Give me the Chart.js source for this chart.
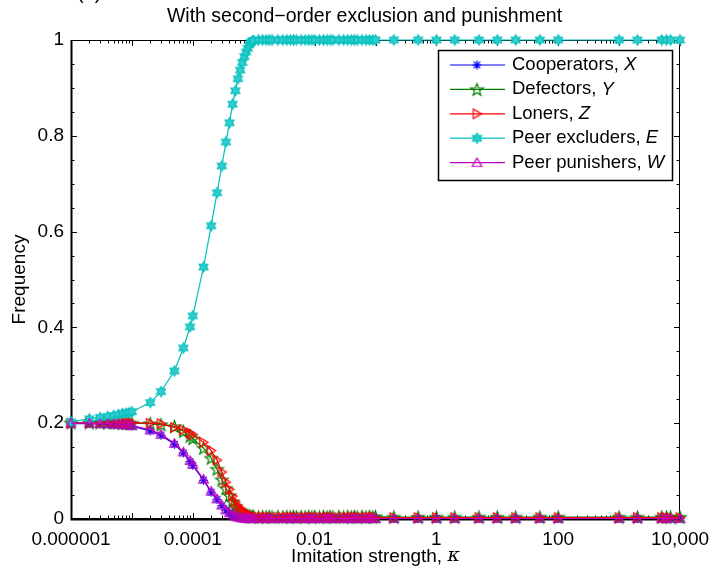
<!DOCTYPE html>
<html>
<head>
<meta charset="utf-8">
<script src="https://cdn.jsdelivr.net/npm/chart.js@4.4.1/dist/chart.umd.min.js"></script>
<style>
  html, body { margin: 0; padding: 0; background: #fff; }
  #chart { display: block; }
</style>
</head>
<body>
<canvas id="chart" width="715" height="570"></canvas>
<script>
// imitation strength values (x)
const kappa = [
  1e-6, 2e-6, 3e-6, 4e-6, 5e-6, 6e-6, 7e-6, 8e-6, 9e-6,
  1e-5, 2e-5, 3e-5, 5e-5, 7e-5, 9e-5,
  1e-4, 1.5e-4, 2e-4, 2.5e-4, 3e-4, 3.5e-4, 4e-4, 4.5e-4, 5e-4, 5.5e-4, 6e-4, 6.5e-4, 7e-4, 7.5e-4, 8e-4, 8.5e-4, 9e-4, 9.5e-4,
  1e-3, 1.2e-3, 1.4e-3, 1.6e-3, 1.8e-3, 2e-3, 2.5e-3, 3e-3, 3.5e-3, 4e-3, 4.5e-3, 5e-3, 6e-3, 7e-3, 8e-3, 9e-3,
  0.01, 0.012, 0.014, 0.016, 0.018, 0.02, 0.025, 0.03, 0.035, 0.04, 0.045, 0.05, 0.06, 0.07, 0.08, 0.09, 0.1,
  0.2, 0.5, 1, 2, 5, 10, 20, 50, 100, 1000, 2000, 5000, 6000, 7000, 10000
];

// frequencies
const cooperatorsX = [
  0.199, 0.199, 0.198, 0.198, 0.197, 0.197, 0.196, 0.196, 0.195,
  0.194, 0.184, 0.175, 0.156, 0.138, 0.120,
  0.112, 0.081, 0.056, 0.041, 0.028, 0.018, 0.012, 0.008, 0.005, 0.004, 0.003, 0.002, 0.001, 0.001, 0.001, 0.001, 0.001, 0.001,
  0.001, 0.001, 0.001, 0.001, 0.001, 0.001, 0.001, 0.001, 0.001, 0.001, 0.001, 0.001, 0.001, 0.001, 0.001, 0.001,
  0.001, 0.001, 0.001, 0.001, 0.001, 0.001, 0.001, 0.001, 0.001, 0.001, 0.001, 0.001, 0.001, 0.001, 0.001, 0.001, 0.001,
  0.001, 0.001, 0.001, 0.001, 0.001, 0.001, 0.001, 0.001, 0.001, 0.001, 0.001, 0.001, 0.001, 0.001, 0.001
];
const defectorsY = [
  0.201, 0.201, 0.201, 0.201, 0.201, 0.201, 0.200, 0.200, 0.200,
  0.200, 0.199, 0.197, 0.193, 0.183, 0.173,
  0.168, 0.148, 0.127, 0.104, 0.082, 0.064, 0.049, 0.036, 0.027, 0.020, 0.015, 0.012, 0.009, 0.008, 0.007, 0.006, 0.005, 0.005,
  0.005, 0.004, 0.005, 0.004, 0.005, 0.004, 0.005, 0.004, 0.005, 0.004, 0.005, 0.004, 0.005, 0.004, 0.005, 0.004,
  0.005, 0.004, 0.005, 0.004, 0.005, 0.004, 0.005, 0.004, 0.005, 0.004, 0.005, 0.004, 0.005, 0.004, 0.005, 0.004, 0.005,
  0.004, 0.004, 0.004, 0.004, 0.004, 0.004, 0.004, 0.004, 0.004, 0.004, 0.004, 0.004, 0.004, 0.004, 0.004
];
const lonersZ = [
  0.200, 0.201, 0.201, 0.201, 0.201, 0.201, 0.201, 0.201, 0.201,
  0.201, 0.200, 0.199, 0.191, 0.186, 0.180,
  0.176, 0.160, 0.143, 0.123, 0.098, 0.077, 0.062, 0.048, 0.036, 0.028, 0.022, 0.018, 0.014, 0.011, 0.009, 0.008, 0.007, 0.006,
  0.005, 0.004, 0.004, 0.003, 0.004, 0.003, 0.004, 0.003, 0.004, 0.003, 0.004, 0.003, 0.004, 0.003, 0.004, 0.003,
  0.003, 0.004, 0.003, 0.004, 0.003, 0.004, 0.003, 0.004, 0.003, 0.004, 0.003, 0.004, 0.003, 0.004, 0.003, 0.004, 0.003,
  0.003, 0.003, 0.003, 0.003, 0.003, 0.003, 0.003, 0.003, 0.003, 0.003, 0.003, 0.003, 0.003, 0.003, 0.003
];
const excludersE = [
  0.203, 0.209, 0.212, 0.214, 0.216, 0.218, 0.220, 0.221, 0.222,
  0.224, 0.243, 0.266, 0.309, 0.357, 0.401,
  0.424, 0.526, 0.612, 0.681, 0.737, 0.787, 0.827, 0.866, 0.894, 0.919, 0.937, 0.953, 0.965, 0.975, 0.983, 0.990, 0.995, 0.998,
  0.999, 1, 1, 1, 1, 1, 1, 1, 1, 1, 1, 1, 1, 1, 1, 1,
  1, 1, 1, 1, 1, 1, 1, 1, 1, 1, 1, 1, 1, 1, 1, 1, 1,
  1, 1, 1, 1, 1, 1, 1, 1, 1, 1, 1, 1, 1, 1, 1
];
const punishersW = [
  0.200, 0.200, 0.199, 0.199, 0.198, 0.198, 0.197, 0.197, 0.196,
  0.195, 0.186, 0.177, 0.158, 0.140, 0.122,
  0.114, 0.083, 0.058, 0.042, 0.029, 0.019, 0.013, 0.009, 0.006, 0.004, 0.003, 0.002, 0.002, 0.001, 0.001, 0.001, 0.001, 0.001,
  0.001, 0.001, 0.001, 0.001, 0.001, 0.001, 0.001, 0.001, 0.001, 0.001, 0.001, 0.001, 0.001, 0.001, 0.001, 0.001,
  0.001, 0.001, 0.001, 0.001, 0.001, 0.001, 0.001, 0.001, 0.001, 0.001, 0.001, 0.001, 0.001, 0.001, 0.001, 0.001, 0.001,
  0.001, 0.001, 0.001, 0.001, 0.001, 0.001, 0.001, 0.001, 0.001, 0.001, 0.001, 0.001, 0.001, 0.001, 0.001
];

const xTickValues = [1e-6, 1e-4, 1e-2, 1, 100, 10000];
const xTickLabels = ['0.000001', '0.0001', '0.01', '1', '100', '10,000'];
const yTickValues = [0, 0.2, 0.4, 0.6, 0.8, 1];
const yTickLabels = ['0', '0.2', '0.4', '0.6', '0.8', '1'];

const FONT = "'Liberation Sans', Arial, sans-serif";
const FSIZE = 19;
const TITLE_FSIZE = 19.5;
const LEGEND_FSIZE = 18.5;

// marker images, drawn once
function starPath(ctx, cx, cy, n, rOut, rIn, start) {
  ctx.beginPath();
  for (let i = 0; i < 2 * n; i++) {
    const r = i % 2 ? rIn : rOut;
    const a = start + i * Math.PI / n;
    const px = cx + r * Math.cos(a), py = cy + r * Math.sin(a);
    if (i === 0) ctx.moveTo(px, py); else ctx.lineTo(px, py);
  }
  ctx.closePath();
}

function makeMarker(size, draw) {
  const c = document.createElement('canvas');
  c.width = size; c.height = size;
  draw(c.getContext('2d'), size / 2);
  return c;
}

const asterisk = makeMarker(13, (ctx, m) => {
  ctx.strokeStyle = '#0000ff'; ctx.lineWidth = 1.2;
  const r = 4.5, d = r * 0.72;
  ctx.beginPath();
  ctx.moveTo(m, m - r); ctx.lineTo(m, m + r);
  ctx.moveTo(m - r, m); ctx.lineTo(m + r, m);
  ctx.moveTo(m - d, m - d); ctx.lineTo(m + d, m + d);
  ctx.moveTo(m - d, m + d); ctx.lineTo(m + d, m - d);
  ctx.stroke();
});
const pentagram = makeMarker(17, (ctx, m) => {
  ctx.strokeStyle = '#008000'; ctx.lineWidth = 1.2;
  starPath(ctx, m, m + 0.6, 5, 6.5, 2.6, -Math.PI / 2);
  ctx.stroke();
});
const triRight = makeMarker(15, (ctx, m) => {
  ctx.strokeStyle = '#ff0000'; ctx.lineWidth = 1.2;
  starPath(ctx, m - 1, m, 3, 5.5, 2.75, 0);
  ctx.stroke();
});
const hexagram = makeMarker(15, (ctx, m) => {
  ctx.fillStyle = '#33cccc'; ctx.strokeStyle = '#00bfbf'; ctx.lineWidth = 1.1;
  starPath(ctx, m, m, 6, 5.2, 3, -Math.PI / 2);
  ctx.fill(); ctx.stroke();
});
const triUp = makeMarker(15, (ctx, m) => {
  ctx.strokeStyle = '#bf00bf'; ctx.lineWidth = 1.2;
  starPath(ctx, m, m + 1, 3, 5.5, 2.75, -Math.PI / 2);
  ctx.stroke();
});

const series = [
  {name: 'Cooperators, ', sym: 'X', values: cooperatorsX, color: '#0000ff', marker: asterisk, order: 4},
  {name: 'Defectors, ', sym: 'Y', values: defectorsY, color: '#008000', marker: pentagram, order: 3},
  {name: 'Loners, ', sym: 'Z', values: lonersZ, color: '#ff0000', marker: triRight, order: 2},
  {name: 'Peer excluders, ', sym: 'E', values: excludersE, color: '#00bfbf', marker: hexagram, order: 1},
  {name: 'Peer punishers, ', sym: 'W', values: punishersW, color: '#bf00bf', marker: triUp, order: 0}
];

// axes box with inward ticks, title and axis titles
const axesPlugin = {
  id: 'axesBox',
  beforeDatasetsDraw(chart) {
    const {ctx, chartArea: a, scales: {x, y}} = chart;
    ctx.save();
    ctx.strokeStyle = '#000';
    ctx.lineWidth = 1;
    ctx.beginPath();
    for (let e = -6; e <= 4; e++) {
      for (let m = 1; m <= 9; m++) {
        const v = m * Math.pow(10, e);
        if (v > 10000.5) break;
        const px = Math.round(x.getPixelForValue(v)) + 0.5;
        const len = m === 1 ? 6 : 3.5;
        ctx.moveTo(px, a.bottom); ctx.lineTo(px, a.bottom - len);
        ctx.moveTo(px, a.top); ctx.lineTo(px, a.top + len);
      }
    }
    for (let k = 0; k <= 20; k++) {
      const py = Math.round(y.getPixelForValue(k * 0.05)) + 0.5;
      const len = k % 4 === 0 ? 6 : 3.5;
      ctx.moveTo(a.left, py); ctx.lineTo(a.left + len, py);
      ctx.moveTo(a.right, py); ctx.lineTo(a.right - len, py);
    }
    ctx.stroke();
    ctx.lineWidth = 1;
    ctx.strokeRect(a.left + 0.5, a.top + 0.5, a.width - 1, a.height - 1);
    ctx.lineWidth = 2;
    ctx.beginPath();
    ctx.moveTo(a.left + 0.5, a.top); ctx.lineTo(a.left + 0.5, a.bottom + 0.5);
    ctx.lineTo(a.right, a.bottom + 0.5);
    ctx.stroke();

    const cx = (a.left + a.right) / 2;
    ctx.fillStyle = '#000';
    ctx.textBaseline = 'middle';

    // title
    ctx.textAlign = 'center';
    ctx.font = TITLE_FSIZE + 'px ' + FONT;
    ctx.fillText('With second\u2212order exclusion and punishment', cx - 11, 17);

    // x axis title with italic kappa
    ctx.textAlign = 'left';
    const xt = 'Imitation strength, ';
    ctx.font = 'italic ' + FSIZE + "px 'DejaVu Serif', serif";
    const kw = ctx.measureText('\u03ba').width;
    ctx.font = FSIZE + 'px ' + FONT;
    const tw = ctx.measureText(xt).width;
    const x0 = cx - (tw + kw) / 2;
    ctx.fillText(xt, x0, 557);
    ctx.font = 'italic ' + FSIZE + "px 'DejaVu Serif', serif";
    ctx.fillText('\u03ba', x0 + tw, 556);

    ctx.font = FSIZE + 'px ' + FONT;
    ctx.save();
    ctx.translate(20, (a.top + a.bottom) / 2);
    ctx.rotate(-Math.PI / 2);
    ctx.textAlign = 'center';
    ctx.fillText('Frequency', 0, 0);
    ctx.restore();

    // panel label, cut off at the top edge
    ctx.textAlign = 'left';
    ctx.textBaseline = 'alphabetic';
    ctx.font = '20px ' + FONT;
    ctx.fillText('(b)', 77, -1);
    ctx.restore();
  }
};

// MATLAB-style legend: line with marker, then label
const legendPlugin = {
  id: 'boxLegend',
  afterDraw(chart) {
    const {ctx, chartArea: a} = chart;
    const bx = a.right - 242, by = a.top + 10, bw = 234, bh = 130;
    ctx.save();
    ctx.fillStyle = '#fff';
    ctx.fillRect(bx, by, bw, bh);
    ctx.strokeStyle = '#000';
    ctx.lineWidth = 1.5;
    ctx.strokeRect(bx + 0.5, by + 0.5, bw, bh);
    series.forEach((s, i) => {
      const yy = by + 15 + i * 24.4;
      ctx.strokeStyle = s.color;
      ctx.lineWidth = 1.2;
      ctx.beginPath();
      ctx.moveTo(bx + 12, yy); ctx.lineTo(bx + 67, yy);
      ctx.stroke();
      ctx.drawImage(s.marker, bx + 39 - s.marker.width / 2, yy - s.marker.height / 2);
      ctx.fillStyle = '#000';
      ctx.textBaseline = 'middle';
      ctx.font = LEGEND_FSIZE + 'px ' + FONT;
      ctx.fillText(s.name, bx + 74, yy);
      const w = ctx.measureText(s.name).width;
      ctx.font = 'italic ' + LEGEND_FSIZE + 'px ' + FONT;
      ctx.fillText(s.sym, bx + 74 + w, yy);
    });
    ctx.restore();
  }
};

new Chart(document.getElementById('chart'), {
  type: 'line',
  data: {
    datasets: series.map(s => ({
      label: s.name + s.sym,
      data: kappa.map((k, i) => ({x: k, y: s.values[i]})),
      borderColor: s.color,
      backgroundColor: s.color,
      borderWidth: 1.2,
      pointStyle: s.marker,
      pointRadius: 6,
      pointHoverRadius: 6,
      tension: 0,
      clip: false,
      order: s.order
    }))
  },
  options: {
    responsive: false,
    animation: false,
    devicePixelRatio: 1,
    layout: {padding: {left: 0, right: 35, top: 40, bottom: 0}},
    plugins: {
      legend: {display: false},
      tooltip: {enabled: false},
      title: {display: false}
    },
    scales: {
      x: {
        type: 'logarithmic',
        min: 1e-6,
        max: 10000,
        afterBuildTicks: s => { s.ticks = xTickValues.map(v => ({value: v})); },
        afterFit: s => { s.height = 51; s.paddingLeft = 0; s.paddingRight = 0; },
        grid: {display: false, drawTicks: false},
        border: {display: false},
        ticks: {
          autoSkip: false, maxRotation: 0, padding: 9, color: '#000',
          font: {family: FONT, size: FSIZE},
          callback: (v, i) => xTickLabels[i]
        }
      },
      y: {
        min: 0,
        max: 1,
        afterBuildTicks: s => { s.ticks = yTickValues.map(v => ({value: v})); },
        afterFit: s => { s.width = 71; s.paddingTop = 0; s.paddingBottom = 0; },
        grid: {display: false, drawTicks: false},
        border: {display: false},
        ticks: {
          padding: 7, color: '#000',
          font: {family: FONT, size: FSIZE},
          callback: (v, i) => yTickLabels[i]
        }
      }
    }
  },
  plugins: [axesPlugin, legendPlugin]
});
</script>
</body>
</html>
